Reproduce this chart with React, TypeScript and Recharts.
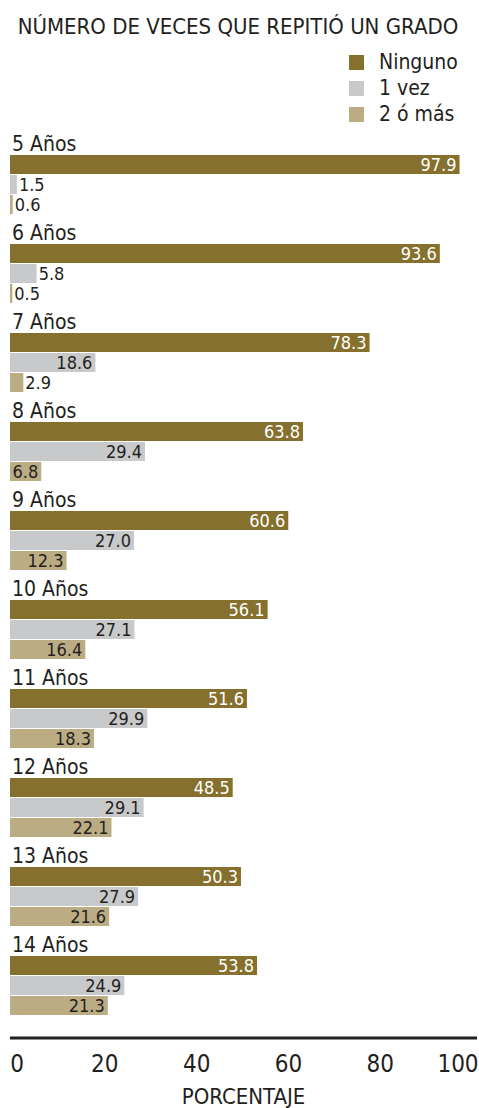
import React from 'react';
import { BarChart, Bar, XAxis, YAxis, LabelList, Label } from 'recharts';

const ages = ['5 Años', '6 Años', '7 Años', '8 Años', '9 Años', '10 Años', '11 Años', '12 Años', '13 Años', '14 Años'];
const ninguno = [97.9, 93.6, 78.3, 63.8, 60.6, 56.1, 51.6, 48.5, 50.3, 53.8];
const unaVez = [1.5, 5.8, 18.6, 29.4, 27.0, 27.1, 29.9, 29.1, 27.9, 24.9];
const dosOMas = [0.6, 0.5, 2.9, 6.8, 12.3, 16.4, 18.3, 22.1, 21.6, 21.3];
const seriesNames = ['Ninguno', '1 vez', '2 ó más'];
const seriesKeys = ['ninguno', 'unaVez', 'dosOMas'];
const seriesColors = ['#85702d', '#c8c9cb', '#bcac84'];
const xTicks = [0, 20, 40, 60, 80, 100];
const title = 'NÚMERO DE VECES QUE REPITIÓ UN GRADO';
const xTitle = 'PORCENTAJE';

const FONT = "'Liberation Sans Narrow', 'DejaVu Sans Condensed', 'Roboto Condensed', sans-serif";
const INK = '#231f20';

const data = ages.map((age, i) => ({
  age,
  ninguno: ninguno[i],
  unaVez: unaVez[i],
  dosOMas: dosOMas[i],
}));

const makeValueLabel = (white: boolean) => (props: any) => {
  const { x, y, width, height, value } = props;
  const txt = Number(value).toFixed(1);
  const inside = width > 28;
  const tx = inside ? x + width - 3 : x + width + 2;
  return (
    <text
      x={tx}
      y={y + height / 2}
      dy="0.36em"
      textAnchor={inside ? 'end' : 'start'}
      fontFamily={FONT}
      fontSize={18}
      fill={white && inside ? '#ffffff' : INK}
    >
      {txt}
    </text>
  );
};

const AgeLabel = (props: any) => {
  const { x, y, value } = props;
  return (
    <text x={x + 2} y={y - 4} fontFamily={FONT} fontSize={21} fill={INK}>
      {value}
    </text>
  );
};

const XTick = (props: any) => {
  const { x, y, payload } = props;
  const v = payload.value;
  const dx = v === 0 ? 7 : v === 100 ? -9 : 3;
  return (
    <text x={x + dx} y={y + 26} textAnchor="middle" fontFamily={FONT} fontSize={24} fill={INK}>
      {v}
    </text>
  );
};

export default function App() {
  return (
    <div style={{ position: 'absolute', left: 0, top: 0, width: 479, height: 1108, background: '#fff' }}>
      <svg width={479} height={130} style={{ position: 'absolute', left: 0, top: 0 }}>
        <text x={238} y={34} textAnchor="middle" fontFamily={FONT} fontSize={22} fill={INK}>
          {title}
        </text>
        {seriesNames.map((name, i) => (
          <g key={name}>
            <rect x={349} y={55 + i * 26} width={15} height={15} fill={seriesColors[i]} />
            <text x={379} y={69 + i * 26} fontFamily={FONT} fontSize={21} fill={INK}>
              {name}
            </text>
          </g>
        ))}
      </svg>
      <div style={{ position: 'absolute', left: 0, top: 0 }}>
        <BarChart
          width={479}
          height={1108}
          layout="vertical"
          data={data}
          margin={{ top: 140, right: 2, bottom: 0, left: 10 }}
          barGap={1}
        >
          <XAxis
            type="number"
            domain={[0, 101.7]}
            ticks={xTicks}
            axisLine={{ stroke: INK, strokeWidth: 3 }}
            tickLine={false}
            height={70}
            tick={<XTick />}
          >
            <Label
              value={xTitle}
              position="insideBottom"
              offset={4}
              fontFamily={FONT}
              fontSize={22}
              fill={INK}
            />
          </XAxis>
          <YAxis type="category" dataKey="age" hide padding={{ top: 0, bottom: 8 }} />
          {seriesKeys.map((k, i) => (
            <Bar key={k} dataKey={k} name={seriesNames[i]} fill={seriesColors[i]} barSize={19} isAnimationActive={false}>
              <LabelList dataKey={k} content={makeValueLabel(i === 0)} />
              {i === 0 ? <LabelList dataKey="age" content={<AgeLabel />} /> : null}
            </Bar>
          ))}
        </BarChart>
      </div>
    </div>
  );
}
